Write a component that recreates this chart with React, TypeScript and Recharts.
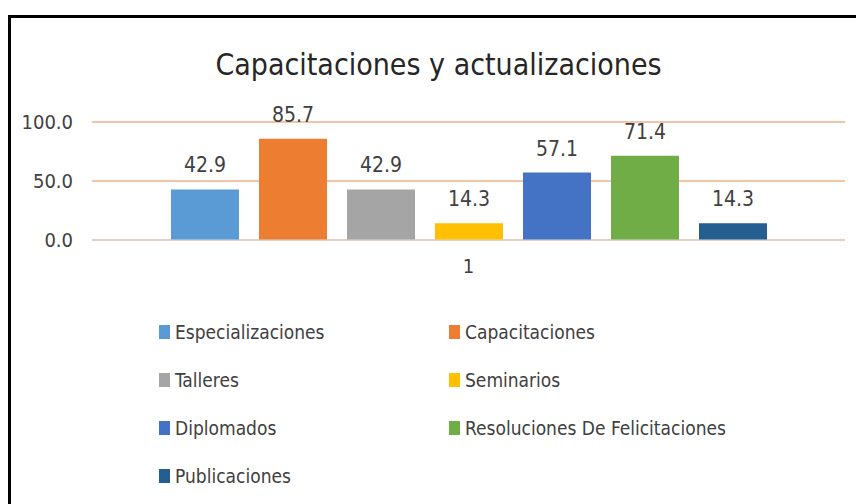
import React from 'react';
import {
  BarChart, Bar, XAxis, YAxis, CartesianGrid, Legend, LabelList, ReferenceLine,
} from 'recharts';

const categories = ['1'];
const seriesNames = [
  'Especializaciones',
  'Capacitaciones',
  'Talleres',
  'Seminarios',
  'Diplomados',
  'Resoluciones De Felicitaciones',
  'Publicaciones',
];
const seriesValues = [42.9, 85.7, 42.9, 14.3, 57.1, 71.4, 14.3];
const seriesColors = ['#5B9BD5', '#ED7D31', '#A5A5A5', '#FFC000', '#4472C4', '#70AD47', '#255E91'];
const yTicks = [0, 50, 100];

const FONT = '"DejaVu Sans Condensed", "Liberation Sans Narrow", sans-serif';
const TEXT = '#404040';

const data = categories.map((name) => {
  const row: Record<string, string | number> = { name };
  seriesNames.forEach((s, i) => { row[s] = seriesValues[i]; });
  return row;
});

function LegendBox() {
  return (
    <div style={{ position: 'relative', width: 856, height: 180, fontFamily: FONT }}>
      {seriesNames.map((s, i) => {
        const col = i % 2;
        const row = Math.floor(i / 2);
        return (
          <div
            key={s}
            style={{
              position: 'absolute',
              left: col === 0 ? 159 : 449,
              top: row * 48,
              height: 32,
              display: 'flex',
              alignItems: 'center',
              whiteSpace: 'nowrap',
            }}
          >
            <span style={{ width: 11, height: 14, background: seriesColors[i], marginRight: 5, display: 'inline-block' }} />
            <span style={{ fontSize: 19, color: TEXT }}>{s}</span>
          </div>
        );
      })}
    </div>
  );
}

export default function App() {
  return (
    <div style={{ position: 'absolute', left: 0, top: 0, width: 856, height: 504, background: '#fff', overflow: 'hidden' }}>
      <div
        style={{
          position: 'absolute', left: 8, top: 15, width: 848, height: 489,
          borderTop: '3px solid #000', borderLeft: '3px solid #000', boxSizing: 'border-box',
        }}
      />
      <div
        style={{
          position: 'absolute', left: 0, top: 45, width: 877, textAlign: 'center',
          fontFamily: FONT, fontSize: 30, color: '#262626', lineHeight: '40px',
        }}
      >
        Capacitaciones y actualizaciones
      </div>
      <BarChart
        width={856}
        height={504}
        data={data}
        margin={{ top: 122, right: 11, left: 0, bottom: 224 }}
        barSize={68}
        barGap={20}
      >
        <CartesianGrid vertical={false} stroke="#E58B4F" strokeWidth={1} />
        <XAxis
          dataKey="name"
          height={40}
          axisLine={false}
          tickLine={false}
          tickSize={0}
          tickMargin={19}
          tick={{ fontSize: 20, fill: TEXT, fontFamily: FONT }}
        />
        <YAxis
          width={92}
          domain={[0, 100]}
          ticks={yTicks}
          axisLine={false}
          tickLine={false}
          tickSize={0}
          tickMargin={19}
          tickFormatter={(v: number) => v.toFixed(1)}
          tick={{ fontSize: 20, fill: TEXT, fontFamily: FONT }}
        />
        <ReferenceLine y={0} stroke="#D9D9D9" strokeWidth={1} />
        {seriesNames.map((s, i) => (
          <Bar key={s} dataKey={s} fill={seriesColors[i]} isAnimationActive={false}>
            <LabelList
              dataKey={s}
              position="top"
              offset={17}
              formatter={(v: number) => Number(v).toFixed(1)}
              style={{ fontSize: 21, fill: TEXT, fontFamily: FONT }}
            />
          </Bar>
        ))}
        <Legend
          layout="vertical"
          align="center"
          verticalAlign="middle"
          content={() => <LegendBox />}
          wrapperStyle={{ position: 'absolute', left: 0, top: 316, width: 856, height: 180 }}
        />
      </BarChart>
    </div>
  );
}
